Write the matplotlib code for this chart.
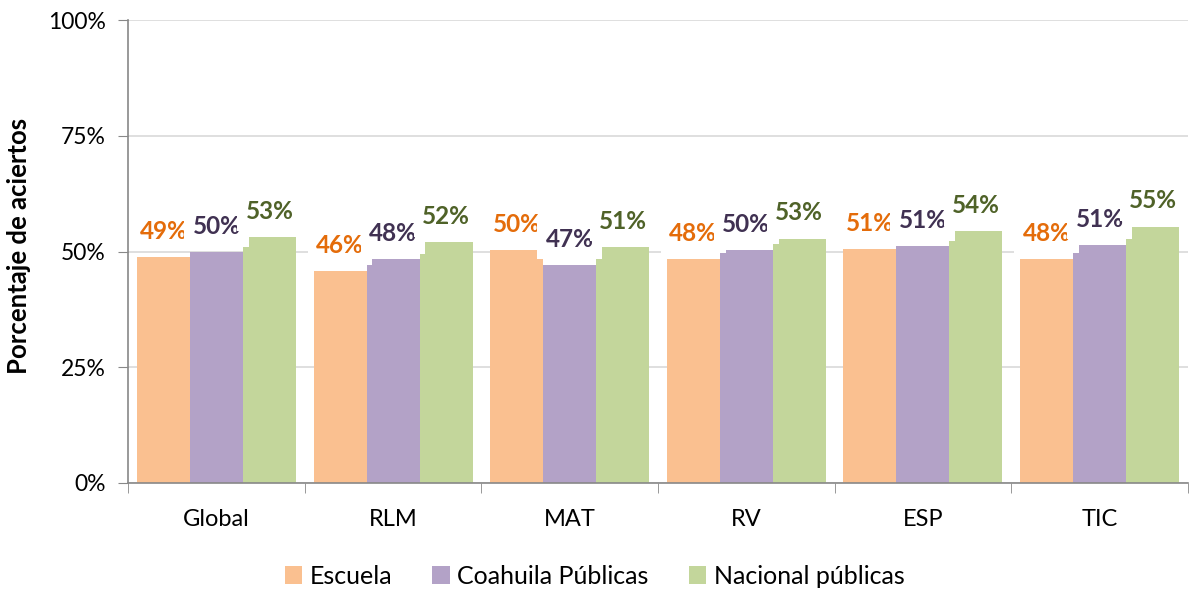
import numpy as np
import matplotlib.pyplot as plt
from matplotlib.ticker import FuncFormatter

plt.rcParams['font.family'] = ['Lato', 'DejaVu Sans']

# datos
categorias = ['Global', 'RLM', 'MAT', 'RV', 'ESP', 'TIC']
series = ['Escuela', 'Coahuila Públicas', 'Nacional públicas']
escuela = [48.9, 45.8, 50.4, 48.4, 50.6, 48.4]
coahuila = [49.8, 48.3, 47.1, 50.4, 51.1, 51.4]
nacional = [53.2, 52.0, 51.0, 52.8, 54.4, 55.4]

colores = ['#FAC090', '#B3A2C7', '#C3D69B']
colores_etq = ['#E46C0A', '#403152', '#4F6228']

fig = plt.figure(figsize=(11.99, 5.89), dpi=100)
ax = fig.add_axes([0.1068, 0.180, 0.884, 0.786])

x = np.arange(len(categorias))
ancho = 0.30
for i, (vals, nombre) in enumerate(zip([escuela, coahuila, nacional], series)):
    pos = x + (i - 1) * ancho
    ax.bar(pos, vals, width=ancho, color=colores[i], label=nombre, zorder=2)
    for px, v in zip(pos, vals):
        ax.annotate(f'{v:.0f}%', (px, v), xytext=(0, 13), textcoords='offset points',
                    ha='center', va='baseline', fontsize=17.5, fontweight='bold',
                    color=colores_etq[i], zorder=3,
                    bbox=dict(boxstyle='square,pad=0.35', fc='white', ec='none'))

ax.set_xlim(-0.5, len(categorias) - 0.5)
ax.set_ylim(0, 100)
ax.set_yticks([0, 25, 50, 75, 100])
ax.yaxis.set_major_formatter(FuncFormatter(lambda v, p: f'{v:.0f}%'))
ax.set_xticks(x)
ax.set_xticklabels(categorias)
ax.set_xticks(np.arange(-0.5, len(categorias), 1), minor=True)
ax.tick_params(axis='x', which='major', length=0, pad=19, labelsize=17)
ax.tick_params(axis='x', which='minor', length=7, color='#888888', direction='out')
ax.tick_params(axis='y', length=7, color='#888888', labelsize=16.5, pad=9)
ax.grid(axis='y', color='#D9D9D9', linewidth=1.2, zorder=0)
ax.set_axisbelow(True)
for s in ['top', 'right']:
    ax.spines[s].set_visible(False)
for s in ['left', 'bottom']:
    ax.spines[s].set_color('#888888')
    ax.spines[s].set_linewidth(1.2)

ax.set_ylabel('Porcentaje de aciertos', fontsize=18.5, fontweight='bold')
ax.yaxis.set_label_coords(-0.092, 0.513)

fig.legend(loc='center', bbox_to_anchor=(0.496, 0.022), ncol=3, frameon=False,
           fontsize=18, handlelength=0.7, handleheight=0.7, handletextpad=0.3,
           columnspacing=1.6)

fig.savefig('out.png', dpi=100)
